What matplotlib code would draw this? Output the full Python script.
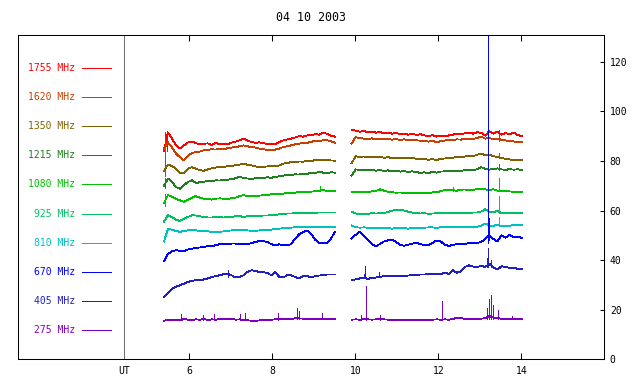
import numpy as np
import matplotlib
matplotlib.use('Agg')
import matplotlib.pyplot as plt

# =============================================
# data (flux traces, UT hours)
# =============================================
freqs = ['1755', '1620', '1350', '1215', '1080', '925', '810', '670', '405', '275']
colors = ['#ff0000', '#c84000', '#806000', '#208020', '#00c000',
          '#00c060', '#00c0c0', '#0000ff', '#2020c0', '#8000c0']

# two observing blocks
t_start_a, t_end_a = 5.39, 9.51
t_start_b, t_end_b = 9.91, 14.01

f1755_a = [84.0, 91.5, 89.0, 86.5, 85.0, 86.3, 87.4, 87.8, 87.2, 86.6,
           86.9, 87.1, 86.5, 87.2, 86.8, 87.0, 86.6, 87.4, 87.8, 88.3,
           89.1, 88.2, 87.6, 87.3, 87.5, 87.1, 86.9, 87.0, 86.8, 87.6,
           88.3, 88.7, 89.0, 89.5, 90.0, 89.8, 90.3, 90.4, 90.8, 90.6,
           91.3, 91.0, 90.2, 89.8]
f1755_b = [92.6, 92.2, 91.8, 92.1, 91.6, 91.9, 91.4, 91.7, 91.2, 91.5,
           91.0, 91.3, 90.8, 91.1, 90.6, 91.0, 90.5, 90.8, 90.3, 90.0,
           90.4, 89.8, 90.2, 89.9, 90.3, 90.6, 91.0, 90.7, 91.2, 91.4,
           91.0, 91.6, 91.3, 90.2, 92.0, 91.0, 91.8, 90.6, 91.2, 90.8,
           91.4, 90.5, 90.0]

f1620_a = [85.0, 87.5, 85.5, 83.0, 81.5, 80.3, 82.0, 83.2, 83.6, 83.8,
           84.3, 84.5, 84.7, 84.6, 85.0, 84.8, 85.1, 85.4, 85.6, 85.9,
           86.3, 85.9, 85.6, 85.4, 85.0, 84.7, 84.5, 84.3, 84.6, 85.0,
           85.6, 85.9, 86.3, 86.7, 87.0, 87.3, 87.3, 87.7, 88.1, 88.1,
           88.3, 88.3, 88.0, 87.3]
f1620_b = [87.0, 89.6, 89.2, 89.0, 88.9, 89.1, 88.8, 89.0, 88.7, 88.9,
           88.6, 88.8, 88.5, 88.7, 88.4, 88.6, 88.3, 88.2, 88.0, 87.8,
           88.1, 87.5, 88.0, 88.2, 88.5, 88.4, 88.7, 88.6, 88.9, 89.0,
           88.8, 89.3, 89.8, 89.0, 89.2, 88.8, 89.0, 88.5, 88.3, 88.0,
           87.9, 87.6, 87.5]

f1350_a = [76.0, 78.6, 78.0, 76.9, 75.0, 75.2, 76.8, 77.5, 76.9, 76.3,
           76.0, 76.6, 77.0, 77.3, 77.6, 77.5, 77.9, 78.0, 78.3, 78.5,
           79.0, 78.4, 78.2, 77.8, 77.5, 77.6, 77.8, 77.9, 77.8, 78.2,
           78.9, 79.2, 79.5, 79.6, 79.8, 79.7, 80.0, 80.0, 80.3, 80.2,
           80.5, 80.3, 80.2, 80.1]
f1350_b = [79.0, 81.9, 81.6, 81.8, 81.5, 81.7, 81.4, 81.6, 81.3, 81.5,
           81.2, 81.4, 81.1, 81.3, 81.0, 81.2, 80.9, 80.6, 80.8, 80.5,
           80.7, 80.4, 80.8, 81.0, 81.2, 81.3, 81.6, 81.4, 81.8, 82.0,
           81.9, 82.5, 83.0, 82.2, 82.4, 82.0, 81.5, 81.2, 80.9, 80.6,
           80.4, 80.2, 80.3]

f1215_a = [70.0, 72.9, 71.6, 69.5, 68.8, 70.2, 71.5, 72.2, 71.1, 71.4,
           71.6, 71.9, 71.8, 72.2, 72.1, 72.5, 72.4, 72.7, 73.0, 73.6,
           73.2, 72.9, 72.8, 73.0, 73.3, 73.1, 73.4, 73.2, 73.6, 73.8,
           74.1, 74.3, 74.4, 74.6, 74.5, 74.9, 74.8, 75.2, 75.1, 75.6,
           75.3, 75.2, 75.4, 75.3]
f1215_b = [74.0, 76.6, 76.4, 76.5, 76.2, 76.4, 76.1, 76.3, 76.0, 76.2,
           75.8, 76.0, 75.7, 75.9, 75.6, 75.8, 75.5, 75.2, 75.4, 75.0,
           75.6, 75.3, 75.7, 75.8, 76.0, 75.9, 76.1, 76.0, 76.3, 76.2,
           76.4, 76.6, 77.5, 76.8, 76.5, 76.7, 77.0, 76.6, 76.4, 76.7,
           76.5, 76.6, 76.4]

f1080_a = [63.0, 66.2, 65.6, 64.8, 64.1, 63.5, 64.4, 65.2, 65.8, 65.2,
           64.8, 64.7, 64.4, 64.8, 64.9, 64.8, 64.7, 65.0, 65.2, 65.8,
           66.2, 65.8, 65.8, 66.0, 66.0, 66.2, 66.2, 66.6, 66.6, 66.5,
           66.8, 67.1, 67.1, 67.2, 67.5, 67.4, 67.6, 67.6, 67.8, 67.9,
           68.2, 67.9, 67.9, 67.8]
f1080_b = [67.5, 67.6, 67.4, 67.6, 67.5, 67.7, 67.9, 68.6, 68.0, 67.6,
           67.4, 67.2, 67.3, 67.1, 67.2, 67.0, 67.1, 67.2, 67.0, 67.1,
           67.3, 67.4, 67.8, 68.3, 68.1, 68.2, 68.0, 68.4, 68.5, 68.3,
           68.4, 68.6, 68.8, 68.5, 68.3, 68.6, 68.0, 67.8, 67.9, 67.7,
           67.6, 67.5, 67.4]

f925_a = [55.5, 58.1, 57.4, 56.3, 55.8, 56.6, 57.4, 58.1, 58.0, 57.7,
          57.4, 57.2, 57.2, 57.4, 57.3, 57.2, 57.4, 57.4, 57.7, 57.8,
          57.4, 57.7, 58.0, 57.7, 57.8, 58.0, 58.0, 58.1, 58.2, 58.5,
          58.5, 58.8, 58.8, 58.9, 59.0, 59.0, 59.0, 59.1, 59.1, 59.2,
          59.2, 59.2, 59.2, 59.2]
f925_b = [59.5, 58.8, 58.6, 58.8, 58.7, 58.9, 58.8, 58.9, 59.0, 59.4,
          59.9, 60.3, 60.4, 60.0, 59.5, 59.2, 59.0, 58.8, 58.9, 58.7,
          58.8, 58.9, 59.0, 59.0, 58.9, 59.1, 59.0, 59.0, 59.1, 59.0,
          59.2, 59.2, 59.6, 60.5, 59.5, 59.4, 59.8, 59.0, 59.0, 59.1,
          59.0, 59.0, 59.0]

f810_a = [47.5, 52.5, 52.3, 51.8, 51.4, 51.8, 52.0, 52.3, 52.0, 51.8,
          51.7, 51.6, 51.4, 51.5, 51.4, 51.6, 51.8, 52.0, 52.0, 52.1,
          52.0, 52.0, 51.8, 51.8, 52.0, 52.3, 52.3, 52.3, 52.6, 52.7,
          52.9, 53.1, 53.1, 53.3, 53.4, 53.4, 53.4, 53.5, 53.5, 53.5,
          53.5, 53.4, 53.4, 53.4]
f810_b = [54.0, 53.3, 53.1, 53.2, 53.1, 53.0, 53.1, 53.0, 52.8, 52.9,
          52.7, 52.9, 52.8, 52.9, 52.7, 53.0, 53.1, 53.0, 53.1, 53.2,
          53.2, 53.0, 53.3, 53.2, 53.3, 53.4, 53.3, 53.4, 53.3, 53.5,
          53.4, 53.5, 53.8, 54.8, 54.0, 53.8, 54.3, 53.7, 53.8, 53.9,
          54.1, 54.0, 54.1]

f670_a = [39.5, 42.5, 43.5, 44.0, 43.8, 43.6, 44.3, 44.6, 44.9, 45.1,
          45.3, 45.6, 45.6, 46.0, 46.4, 46.4, 46.5, 46.7, 46.7, 46.4,
          46.4, 46.4, 46.9, 47.3, 47.7, 47.7, 47.3, 46.4, 46.0, 46.4,
          46.0, 46.0, 46.4, 48.7, 50.4, 51.4, 51.8, 50.7, 48.3, 46.9,
          46.7, 46.9, 48.7, 51.4]
f670_b = [48.7, 50.2, 51.4, 50.0, 48.3, 46.5, 45.6, 46.5, 47.5, 48.0,
          48.3, 47.3, 46.2, 45.8, 46.2, 46.7, 46.9, 46.5, 46.0, 46.0,
          47.0, 47.9, 47.5, 46.3, 45.7, 46.2, 46.4, 46.4, 46.6, 46.8,
          46.9, 47.0, 47.3, 48.5, 50.0, 48.5, 47.5, 50.0, 49.0, 50.2,
          49.2, 49.5, 49.0]

f405_a = [25.2, 26.8, 28.5, 29.2, 29.9, 30.5, 31.2, 31.6, 31.9, 31.9,
          32.2, 32.6, 33.2, 33.5, 33.9, 34.3, 34.6, 33.9, 33.0, 33.2,
          33.9, 35.2, 35.9, 35.7, 35.2, 35.2, 34.8, 33.9, 35.2, 33.2,
          33.0, 33.9, 33.9, 33.2, 32.6, 33.5, 33.5, 33.2, 33.5, 33.8,
          33.9, 34.2, 34.2, 34.2]
f405_b = [32.0, 32.2, 32.6, 33.0, 32.4, 32.8, 33.0, 33.3, 33.5, 33.5,
          33.6, 33.6, 33.5, 33.6, 33.8, 33.9, 34.0, 34.2, 34.2, 34.3,
          34.3, 34.5, 34.3, 35.0, 34.4, 35.9, 34.9, 35.5, 37.3, 37.9,
          37.4, 37.3, 37.6, 37.3, 38.5, 37.0, 36.2, 37.5, 37.3, 36.9,
          36.9, 36.5, 36.3]

f275_a = [15.6, 15.8, 15.7, 15.9, 15.8, 16.2, 16.0, 15.9, 16.1, 16.0,
          16.2, 15.9, 16.1, 16.0, 16.2, 16.4, 16.2, 16.3, 16.0, 16.1,
          15.8, 15.7, 15.6, 15.5, 15.7, 15.8, 16.0, 16.0, 16.1, 16.2,
          16.3, 16.4, 16.2, 16.6, 16.5, 16.4, 16.3, 16.2, 16.3, 16.4,
          16.2, 16.1, 16.2, 16.1]
f275_b = [16.0, 16.1, 16.0, 16.2, 16.1, 16.0, 16.1, 16.2, 16.1, 16.0,
          16.0, 15.9, 15.8, 15.7, 15.7, 15.8, 15.7, 15.8, 15.9, 15.9,
          16.0, 16.1, 16.0, 16.1, 16.0, 16.2, 16.8, 16.6, 16.3, 16.2,
          16.2, 16.3, 16.4, 16.6, 17.5, 16.8, 16.6, 16.4, 16.3, 16.2,
          16.3, 16.4, 16.3]

# short bursts: (UT, low, high)
spk_1755 = [(5.42, 81.5, 91.5), (5.47, 84.0, 92.0), (13.20, 90.5, 93.0), (13.46, 90.0, 92.5)]
spk_1620 = [(5.41, 80.0, 89.0), (13.20, 88.5, 90.5), (13.46, 88.0, 89.5)]
spk_1350 = [(5.42, 74.0, 79.5), (13.20, 81.8, 83.8), (13.46, 81.0, 83.3)]
spk_1215 = [(5.42, 69.0, 73.0), (13.20, 76.5, 78.0), (13.46, 76.5, 78.9)]
spk_1080 = [(5.42, 62.0, 66.5), (9.16, 67.9, 69.8), (12.36, 67.8, 69.5),
            (13.20, 68.3, 72.5), (13.46, 68.0, 73.0)]
spk_925 = [(13.20, 59.0, 62.5), (13.46, 59.2, 66.0)]
spk_810 = [(13.20, 53.5, 57.4), (13.46, 53.8, 57.4)]
spk_670 = [(13.20, 47.0, 135.0), (13.23, 48.0, 57.0)]
spk_405 = [(6.94, 33.0, 36.2), (10.21, 32.6, 34.5), (10.23, 32.6, 37.7),
           (10.58, 33.0, 35.2), (13.17, 37.3, 41.0), (13.20, 37.3, 45.0),
           (13.26, 37.3, 40.0)]
spk_275 = [(5.79, 16.0, 18.4), (6.34, 16.0, 17.8), (6.60, 16.0, 18.2),
           (7.22, 16.0, 18.4), (7.34, 16.0, 18.7), (8.13, 16.0, 18.7),
           (8.59, 16.2, 20.5), (8.65, 16.2, 19.5), (9.19, 16.2, 18.8),
           (10.13, 16.0, 17.8), (10.25, 16.0, 29.5), (10.27, 16.0, 24.1),
           (10.59, 16.0, 17.8), (12.08, 16.0, 23.6), (13.17, 16.4, 20.5),
           (13.22, 16.4, 24.5), (13.26, 16.4, 25.8), (13.31, 16.4, 21.8),
           (13.45, 16.3, 19.8), (13.77, 16.2, 17.4)]

ut_marker = 4.43
y_ticks = [0, 20, 40, 60, 80, 100, 120]
x_ticks = [6, 8, 10, 12, 14]

# =============================================
# plotting
# =============================================
plt.rcParams['font.family'] = ['DejaVu Sans Mono']
plt.rcParams['font.size'] = 7

fig = plt.figure(figsize=(6.4, 3.84), dpi=100)
ax = fig.add_axes([0.0286, 0.0643, 0.9156, 0.8446])

series = [
    (f1755_a, f1755_b, spk_1755),
    (f1620_a, f1620_b, spk_1620),
    (f1350_a, f1350_b, spk_1350),
    (f1215_a, f1215_b, spk_1215),
    (f1080_a, f1080_b, spk_1080),
    (f925_a, f925_b, spk_925),
    (f810_a, f810_b, spk_810),
    (f670_a, f670_b, spk_670),
    (f405_a, f405_b, spk_405),
    (f275_a, f275_b, spk_275),
]

lw = 0.6
ax.axvline(ut_marker, color='#707070', lw=0.75)

for (a, b, spk), col in zip(series, colors):
    ax.plot(np.linspace(t_start_a, t_end_a, len(a)), a, color=col, lw=lw, antialiased=False)
    ax.plot(np.linspace(t_start_b, t_end_b, len(b)), b, color=col, lw=lw, antialiased=False)
    ax.vlines([s[0] for s in spk], [s[1] for s in spk], [s[2] for s in spk],
              color=col, lw=lw, antialiased=False)

# frequency key on the left
for i, (f, col) in enumerate(zip(freqs, colors)):
    y = 11.75 * (len(freqs) - i)
    ax.text(3.25, y, f + ' MHz', ha='right', va='center', color=col)
    ax.plot([3.415, 4.106], [y, y], color=col, lw=lw, antialiased=False)

ax.set_xlim(1.88, 16.0)
ax.set_ylim(0, 130.8)

ax.set_xticks(x_ticks)
ax.set_xticks([ut_marker], ['UT'], minor=True)
ax.tick_params(axis='x', which='major', direction='in', length=4, width=0.75,
               top=True, pad=5)
ax.tick_params(axis='x', which='minor', length=0, pad=5)

ax.yaxis.tick_right()
ax.set_yticks(y_ticks)
ax.tick_params(axis='y', direction='in', length=3, width=0.75, pad=4)

for sp in ax.spines.values():
    sp.set_linewidth(0.75)
    sp.set_color('black')

ax.set_title('04 10 2003', pad=10)

fig.savefig('out.png', dpi=100)
